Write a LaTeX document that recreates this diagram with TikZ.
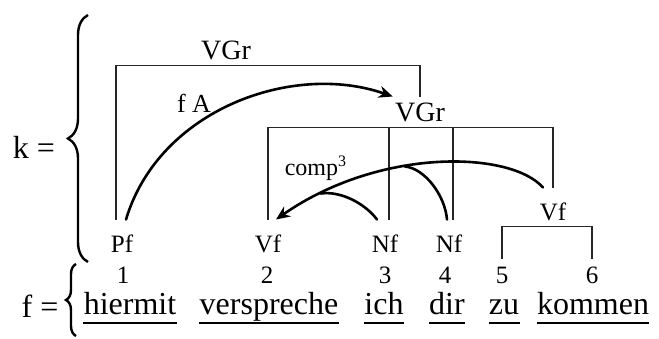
\documentclass[tikz,border=0pt]{standalone}
\usepackage{fontspec}
\setmainfont{Liberation Serif}
\usepackage{tikz}
\usetikzlibrary{arrows.meta,calc,decorations.pathreplacing}

\begin{document}
\begin{tikzpicture}[
    x=0.5pt, y=-0.5pt,
    word_box/.style={inner xsep=0pt, inner ysep=1pt, anchor=base, font=\fontsize{16}{18}\selectfont},
    cat_lab/.style={inner sep=1pt, text height=8.5pt, text depth=0pt, outer ysep=7pt, font=\fontsize{12.5}{14}\selectfont},
    num_lab/.style={inner sep=1pt, text height=6.5pt, text depth=0pt, outer ysep=5pt, font=\fontsize{12.5}{14}\selectfont},
    vgr_lab/.style={inner sep=1pt, outer ysep=2pt, font=\fontsize{14}{16}\selectfont},
    side_lab/.style={inner sep=1pt, font=\fontsize{16}{18}\selectfont},
    brk_line/.style={draw=black!85, line width=0.55pt},
    arc_line/.style={draw=black, line width=1.3pt, line cap=round},
    dep_arrow/.style={arc_line, -{Stealth[length=7pt,width=6pt]}},
    uline/.style={draw=black, line width=0.6pt},
    big_brace/.style={decorate, decoration={brace, amplitude=#1}, line width=1.2pt}
]
\useasboundingbox (0,0) rectangle (659,338);

\node (w_hiermit) [word_box] at (130,314) {hiermit};
\node (w_verspr)  [word_box] at (269,314) {verspreche};
\node (w_ich)     [word_box] at (384,314) {ich};
\node (w_dir)     [word_box] at (447,314) {dir};
\node (w_zu)      [word_box] at (504,314) {zu};
\node (w_kommen)  [word_box] at (593,314) {kommen};

\foreach \w in {w_hiermit,w_verspr,w_ich,w_dir,w_zu,w_kommen}
    \draw [uline] ([yshift=-4.5pt]\w.base west) -- ([yshift=-4.5pt]\w.base east);

\node (n1) [num_lab] at (123,277) {1};
\node (n2) [num_lab] at (267,277) {2};
\node (n3) [num_lab] at (385,277) {3};
\node (n4) [num_lab] at (445,277) {4};
\node (n5) [num_lab] at (502,277) {5};
\node (n6) [num_lab] at (592,277) {6};

\node (pf)   [cat_lab] at (122,244) {Pf};
\node (vf2)  [cat_lab] at (268,244) {Vf};
\node (nf3)  [cat_lab] at (385,244) {Nf};
\node (nf4)  [cat_lab] at (449,244) {Nf};
\node (vf56) [cat_lab] at (553,212) {Vf};

\node (vgr_top) [vgr_lab] at (226,50) {VGr};
\node (vgr_mid) [vgr_lab] at (420,112) {VGr};

\node (k_eq) [side_lab] at (34,147) {k =};
\node (f_eq) [side_lab] at (40,306) {f =};
\node (lab_fa)   [font=\fontsize{13}{15}\selectfont] at (194,103) {f A};
\node (lab_comp) [font=\fontsize{12}{14}\selectfont] at (316,168) {comp\textsuperscript{3}};

\draw [big_brace=10pt] (88,262) -- (88,15);
\draw [big_brace=5pt]  (76,336) -- (76,264);

\draw [brk_line] ([xshift=-3pt]pf.north) |- (vgr_top.south) -| (vgr_mid.north);
\draw [brk_line] (vf2.north) |- (vgr_mid.south) -| (vf56.north);
\draw [brk_line] ([xshift=2pt]nf3.north) -- ([xshift=2pt]nf3.north |- vgr_mid.south);
\draw [brk_line] ([xshift=2pt]nf4.north) -- ([xshift=2pt]nf4.north |- vgr_mid.south);
\draw [brk_line] (n5.north) |- ([yshift=5pt]vf56.south) -| (n6.north);

\draw [dep_arrow] ([xshift=2pt]pf.north) .. controls +(33,-110) and +(-100,-35) .. (vgr_mid.north west);
\draw [dep_arrow] ([xshift=-5pt]vf56.north) .. controls +(-33,-37) and +(103,-72) .. ([xshift=4pt]vf2.north)
    coordinate[pos=0.86] (c_nf3) coordinate[pos=0.6] (c_nf4);
\draw [arc_line] ([xshift=-4pt]nf3.north) .. controls +(-12,-16) and +(20,-3) .. (c_nf3);
\draw [arc_line] ([xshift=-1pt]nf4.north) .. controls +(-2,-24) and +(20,2) .. (c_nf4);

\end{tikzpicture}
\end{document}
